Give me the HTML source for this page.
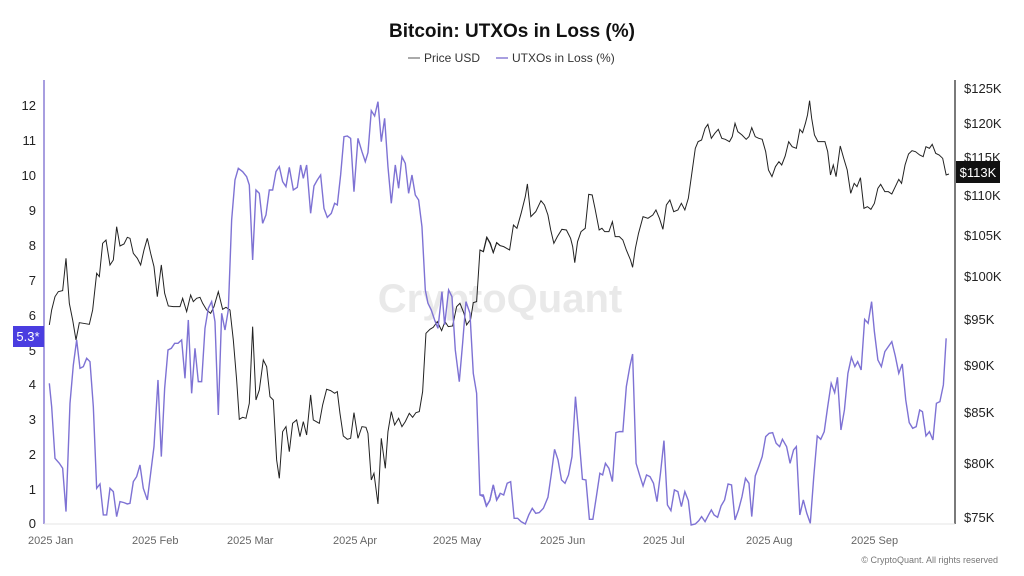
<!DOCTYPE html>
<html><head><meta charset="utf-8"><style>
body{margin:0;background:#fff;}
svg{display:block;font-family:"Liberation Sans",sans-serif;}
</style></head><body>
<svg width="1024" height="576" viewBox="0 0 1024 576" xmlns="http://www.w3.org/2000/svg">
<rect width="1024" height="576" fill="#fff"/>
<text x="512" y="37" text-anchor="middle" font-size="19" font-weight="bold" fill="#111">Bitcoin: UTXOs in Loss (%)</text>
<line x1="408" y1="58" x2="420" y2="58" stroke="#555" stroke-width="1"/>
<text x="424" y="62" font-size="12" fill="#333">Price USD</text>
<line x1="496" y1="58" x2="508" y2="58" stroke="#8b7fd6" stroke-width="1.5"/>
<text x="512" y="62" font-size="12" fill="#333">UTXOs in Loss (%)</text>
<text x="500" y="312" text-anchor="middle" font-size="40" font-weight="bold" fill="#e9e9e9">CryptoQuant</text>
<line x1="44" y1="80" x2="44" y2="524" stroke="#8b7fd6" stroke-width="1.5"/>
<line x1="955" y1="80" x2="955" y2="524" stroke="#222" stroke-width="1.2"/>
<line x1="44" y1="524" x2="955" y2="524" stroke="#e6e6e6" stroke-width="1"/>
<g font-size="13" fill="#222" text-anchor="end">
<text x="36" y="110">12</text><text x="36" y="145">11</text><text x="36" y="180">10</text><text x="36" y="215">9</text><text x="36" y="250">8</text><text x="36" y="285">7</text><text x="36" y="320">6</text><text x="36" y="355">5</text><text x="36" y="389">4</text><text x="36" y="424">3</text><text x="36" y="459">2</text><text x="36" y="494">1</text><text x="36" y="528">0</text>
</g>
<g font-size="13" fill="#222">
<text x="964" y="93">$125K</text><text x="964" y="128">$120K</text><text x="964" y="200">$110K</text><text x="964" y="240">$105K</text><text x="964" y="281">$100K</text><text x="964" y="324">$95K</text><text x="964" y="370">$90K</text><text x="964" y="417">$85K</text><text x="964" y="468">$80K</text><text x="964" y="522">$75K</text>
</g>
<g font-size="11" fill="#666">
<text x="28" y="544">2025 Jan</text><text x="132" y="544">2025 Feb</text><text x="227" y="544">2025 Mar</text><text x="333" y="544">2025 Apr</text><text x="433" y="544">2025 May</text><text x="540" y="544">2025 Jun</text><text x="643" y="544">2025 Jul</text><text x="746" y="544">2025 Aug</text><text x="851" y="544">2025 Sep</text>
</g>
<text x="998" y="563" text-anchor="end" font-size="9" fill="#777">© CryptoQuant. All rights reserved</text>
<g transform="translate(0,80) scale(0.3333)" fill="none">
<polyline vector-effect="non-scaling-stroke" stroke="#222" stroke-width="1" points="148,735 155,690 165,650 175,635 188,632 198,535 208,670 218,720 228,780 238,728 250,730 268,733 278,690 290,580 298,590 308,490 318,480 330,555 340,540 350,440 360,498 372,492 382,472 390,475 400,520 412,535 422,555 432,510 442,475 452,520 462,560 472,650 484,555 494,640 505,678 520,680 540,680 548,655 560,695 572,645 580,665 590,655 600,652 608,670 620,690 632,700 642,680 655,635 668,688 678,682 690,690 700,780 710,900 718,1018 728,1012 738,1015 748,970 758,740 768,960 778,930 790,840 800,860 810,950 820,960 830,1140 838,1195 848,1055 858,1040 868,1115 878,1030 890,1020 900,1070 910,1025 920,1065 932,945 940,1020 958,1030 968,975 980,928 992,932 1004,940 1012,935 1020,1000 1030,1068 1042,1078 1052,1075 1062,998 1074,1075 1086,1040 1098,1042 1104,1060 1114,1200 1122,1180 1134,1272 1144,1075 1156,1165 1164,1055 1174,995 1184,1035 1196,1015 1206,1040 1216,1025 1228,1000 1238,1012 1248,998 1258,995 1268,935 1278,760 1290,748 1300,742 1312,725 1325,752 1335,725 1345,740 1358,738 1370,680 1380,670 1392,700 1400,735 1412,718 1420,668 1430,665 1440,510 1450,515 1460,472 1470,490 1480,518 1490,488 1500,497"/>
<polyline vector-effect="non-scaling-stroke" stroke="#7e72d4" stroke-width="1.4" points="148,910 155,980 165,1135 178,1150 188,1165 198,1295 210,970 220,855 230,780 240,865 250,860 260,835 270,845 280,980 290,1225 300,1212 310,1305 320,1305 330,1225 340,1235 350,1310 360,1265 372,1268 382,1272 390,1270 400,1205 410,1190 420,1155 430,1225 442,1260 452,1180 462,1100 474,900 484,1130 494,925 504,810 514,805 524,790 534,790 545,780 555,895 565,720 575,940 585,805 595,905 605,905 615,745 625,685 635,665 645,725 655,1005 665,700 675,750 685,690 695,420 705,300 715,265 728,275 740,290 748,315 758,540 768,330 778,340 788,430 798,405 808,330 818,330 828,275 838,260 848,305 858,320 868,262 880,330 892,322 902,255 910,295 920,255 932,400 942,318 952,300 962,285 972,385 982,412 994,400 1004,370 1012,375 1022,285 1032,170 1042,168 1052,175 1062,335 1074,175 1086,215 1096,245 1104,218 1114,92 1124,108 1134,65 1144,185 1154,115 1164,260 1174,370 1186,255 1196,325 1206,230 1216,250 1226,340 1236,285 1246,345 1256,360 1266,440 1276,630 1284,670 1294,690 1304,720 1314,745 1326,635 1334,735 1346,630 1356,650 1366,810 1378,905 1388,790 1398,665 1410,700 1420,880 1430,940 1440,1245 1450,1245 1460,1278 1470,1260 1480,1215 1490,1260 1500,1245"/>
</g>
<g transform="translate(480,80) scale(0.3484,0.3333)" fill="none">
<polyline vector-effect="non-scaling-stroke" stroke="#222" stroke-width="1" points="0,510 10,515 20,472 30,490 38,518 48,488 58,497 68,500 85,510 96,435 106,445 118,400 130,350 136,312 146,410 160,395 175,362 185,375 195,405 203,450 212,490 222,470 235,448 248,450 260,475 266,500 272,548 280,485 290,455 302,445 312,343 322,345 330,385 342,450 350,445 358,455 370,455 380,425 388,470 400,470 410,480 420,510 432,540 438,562 446,505 455,460 468,410 482,415 496,405 505,390 515,415 525,448 535,375 545,360 556,395 568,390 578,370 588,390 598,355 608,280 618,205 626,185 636,180 646,145 654,133 664,175 674,160 684,148 694,175 704,178 716,185 724,170 732,130 740,155 752,165 764,178 772,170 780,143 790,170 800,175 810,178 820,215 828,270 838,290 848,260 858,245 866,255 876,228 886,185 896,200 908,205 918,148 926,158 934,130 940,105 946,62 952,115 960,165 970,185 980,185 990,185 998,215 1006,285 1014,255 1022,290 1034,198 1044,235 1054,270 1064,340 1074,310 1082,320 1092,293 1102,385 1112,380 1122,388 1132,370 1142,325 1150,313 1162,335 1172,335 1182,342 1192,320 1202,298 1210,310 1220,255 1230,222 1240,212 1250,215 1262,225 1272,230 1280,200 1290,205 1298,193 1308,220 1318,225 1328,235 1338,285 1346,282"/>
<polyline vector-effect="non-scaling-stroke" stroke="#7e72d4" stroke-width="1.4" points="0,1245 10,1250 18,1278 28,1262 38,1215 48,1260 58,1240 68,1245 78,1210 88,1205 98,1315 108,1315 118,1325 130,1332 140,1305 150,1285 160,1300 170,1298 182,1285 195,1252 205,1180 214,1108 224,1140 234,1200 244,1210 254,1185 264,1130 274,950 284,1070 294,1198 304,1200 314,1318 324,1318 334,1250 344,1180 352,1185 360,1150 370,1165 380,1205 390,1058 400,1055 410,1055 420,920 430,860 438,822 448,1150 458,1185 468,1218 478,1185 488,1190 498,1210 508,1265 518,1180 528,1082 538,1275 548,1292 558,1230 568,1235 578,1280 588,1235 598,1262 606,1335 618,1332 628,1322 636,1310 646,1325 656,1305 664,1290 672,1305 682,1312 692,1278 702,1260 712,1212 722,1215 732,1320 742,1290 752,1250 762,1195 772,1210 780,1310 790,1188 800,1160 810,1130 820,1070 830,1060 840,1058 850,1090 860,1100 868,1078 880,1100 890,1150 900,1110 908,1100 918,1305 928,1260 938,1300 948,1330 958,1190 968,1068 978,1078 988,1055 998,980 1008,910 1018,938 1026,892 1036,1050 1046,990 1056,880 1066,832 1076,860 1084,845 1094,870 1104,718 1114,730 1124,665 1132,755 1142,840 1152,860 1162,815 1172,800 1182,785 1192,828 1202,880 1212,852 1222,960 1232,1028 1242,1045 1252,1040 1262,990 1270,995 1280,1068 1290,1055 1300,1080 1310,970 1320,965 1330,915 1338,775"/>
</g>
<text x="964" y="162" font-size="13" fill="#222">$115K</text>
<rect x="956" y="161" width="44" height="22" fill="#111"/>
<text x="978" y="177" text-anchor="middle" font-size="13" fill="#fff">$113K</text>
<rect x="13" y="326" width="31" height="21" fill="#4a3de0"/>
<text x="28" y="341" text-anchor="middle" font-size="13" fill="#fff">5.3*</text>
</svg>
</body></html>
